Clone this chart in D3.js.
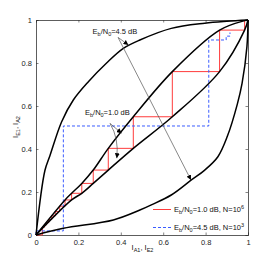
<!DOCTYPE html>
<html>
<head>
<meta charset="utf-8">
<title>EXIT chart</title>
<style>
body { margin: 0; background: #fff; }
* { font-family: "Liberation Sans", Arial, sans-serif; }
</style>
<script src="https://cdn.jsdelivr.net/npm/d3@7"></script>
</head>
<body>
<script>
// transfer curves, 4.5 dB (outer pair)
var a45X = [0, 0.042, 0.066, 0.121, 0.176, 0.247, 0.333, 0.412, 0.49, 0.638, 0.796, 0.9, 1];
var a45Y = [0, 0.30, 0.37, 0.527, 0.628, 0.713, 0.80, 0.868, 0.907, 0.961, 0.985, 0.994, 1];
var b45X = [0, 0.129, 0.365, 0.49, 0.544, 0.638, 0.733, 0.796, 0.858, 0.903, 0.95, 0.972, 0.995, 1];
var b45Y = [0, 0.031, 0.07, 0.116, 0.14, 0.186, 0.256, 0.302, 0.364, 0.46, 0.61, 0.705, 0.876, 1];
// transfer curves, 1.0 dB (inner pair)
var c10X = [0, 0.137, 0.168, 0.216, 0.27, 0.341, 0.459, 0.643, 0.866, 0.984, 1];
var c10Y = [0, 0.163, 0.194, 0.24, 0.302, 0.403, 0.55, 0.76, 0.953, 0.997, 1];
var d10X = [0, 0.168, 0.216, 0.27, 0.341, 0.459, 0.643, 0.866, 0.984, 1];
var d10Y = [0, 0.163, 0.194, 0.24, 0.302, 0.403, 0.55, 0.76, 0.953, 1];
// trajectories
var redX = [0.03, 0.04, 0.049, 0.06, 0.074, 0.091, 0.112, 0.137, 0.168, 0.216, 0.27, 0.341, 0.459, 0.643, 0.866, 0.984];
var redY = [0.036, 0.047, 0.058, 0.072, 0.089, 0.109, 0.134, 0.163, 0.194, 0.24, 0.302, 0.403, 0.55, 0.76, 0.953, 1.0];
var blueX = [0, 0, 0.129, 0.129, 0.815, 0.815, 0.897, 0.897, 0.915, 0.915];
var blueY = [0, 0.019, 0.019, 0.507, 0.507, 0.907, 0.907, 0.925, 0.925, 0.942];
var ticks = [0, 0.2, 0.4, 0.6, 0.8, 1];

var width = 274, height = 264;
var x = d3.scaleLinear().domain([0, 1]).range([36, 248]);
var y = d3.scaleLinear().domain([0, 1]).range([235, 20]);

var svg = d3.select("body").append("svg")
    .attr("width", width)
    .attr("height", height);

var defs = svg.append("defs");
defs.append("marker")
    .attr("id", "head")
    .attr("viewBox", "0 0 10 10")
    .attr("refX", 10).attr("refY", 5)
    .attr("markerWidth", 5).attr("markerHeight", 5)
    .attr("markerUnits", "userSpaceOnUse")
    .attr("orient", "auto")
  .append("path")
    .attr("d", "M0,0L10,5L0,10z")
    .attr("fill", "#000");

function zip(xs, ys) { return xs.map(function(v, i) { return [v, ys[i]]; }); }

var smooth = d3.line()
    .x(function(d) { return x(d[0]); })
    .y(function(d) { return y(d[1]); })
    .curve(d3.curveCatmullRom.alpha(0.5));
var straight = d3.line()
    .x(function(d) { return x(d[0]); })
    .y(function(d) { return y(d[1]); });

// axes (MATLAB style box, ticks inward)
var box = svg.append("g").attr("font-size", "7.5px").attr("fill", "#222");
box.append("g").attr("transform", "translate(0,235)")
    .call(d3.axisBottom(x).tickValues(ticks).tickSize(-2.5).tickPadding(5).tickFormat(d3.format("")));
box.append("g").attr("transform", "translate(0,20)")
    .call(d3.axisTop(x).tickValues(ticks).tickSize(-2.5).tickFormat(""));
box.append("g").attr("transform", "translate(36,0)")
    .call(d3.axisLeft(y).tickValues(ticks).tickSize(-2.5).tickPadding(4).tickFormat(d3.format("")));
box.append("g").attr("transform", "translate(248,0)")
    .call(d3.axisRight(y).tickValues(ticks).tickSize(-2.5).tickFormat(""));
box.selectAll(".domain").attr("stroke", "#333").attr("stroke-width", 0.8);
box.selectAll(".tick line").attr("stroke", "#333").attr("stroke-width", 0.6);
box.selectAll("text").attr("font-size", "7.5px").attr("fill", "#222")
    .attr("font-family", "Liberation Sans, Arial, sans-serif");

// red staircase
var redPts = [[0, 0]];
redX.forEach(function(v, i) {
    redPts.push([v, i === 0 ? 0 : redY[i - 1]]);
    redPts.push([v, redY[i]]);
});
svg.append("path")
    .attr("d", straight(redPts))
    .attr("fill", "none")
    .attr("stroke", "#ff3b3b")
    .attr("stroke-width", 1);

// blue dashed trajectory
svg.append("path")
    .attr("d", straight(zip(blueX, blueY)))
    .attr("fill", "none")
    .attr("stroke", "#3a5cff")
    .attr("stroke-width", 1)
    .attr("stroke-dasharray", "3,2");

// black transfer curves
[[a45X, a45Y], [b45X, b45Y], [c10X, c10Y], [d10X, d10Y]].forEach(function(c) {
    svg.append("path")
        .attr("d", smooth(zip(c[0], c[1])))
        .attr("fill", "none")
        .attr("stroke", "#000")
        .attr("stroke-width", 1.5);
});

// annotations
function ebno(g, px, py, rest) {
    var t = g.append("text").attr("x", px).attr("y", py)
        .attr("font-size", "7.5px").attr("fill", "#111");
    t.append("tspan").text("E");
    t.append("tspan").text("b").attr("font-size", "5.5px").attr("dy", 2);
    t.append("tspan").text("/N").attr("dy", -2);
    t.append("tspan").text("0").attr("font-size", "5.5px").attr("dy", 2);
    t.append("tspan").text(rest).attr("dy", -2);
    return t;
}
var ann = svg.append("g");
ebno(ann, x(0.267), y(0.935), "=4.5 dB");
ebno(ann, x(0.231), y(0.556), "=1.0 dB");

function arrow(p0, p1, ctrl) {
    var d = "M" + x(p0[0]) + "," + y(p0[1]) +
        (ctrl ? "Q" + x(ctrl[0]) + "," + y(ctrl[1]) + " " : "L") + x(p1[0]) + "," + y(p1[1]);
    ann.append("path").attr("d", d)
        .attr("fill", "none").attr("stroke", "#555").attr("stroke-width", 0.7)
        .attr("marker-end", "url(#head)");
}
arrow([0.387, 0.919], [0.436, 0.884]);
arrow([0.387, 0.919], [0.731, 0.256]);
arrow([0.349, 0.519], [0.404, 0.473]);
arrow([0.349, 0.519], [0.381, 0.357], [0.392, 0.45]);

// legend
var leg = svg.append("g");
leg.append("line").attr("x1", 153).attr("x2", 171).attr("y1", 209.5).attr("y2", 209.5)
    .attr("stroke", "#ff3b3b").attr("stroke-width", 1);
var t1 = ebno(leg, 174, 211.5, "=1.0 dB, N=10");
t1.append("tspan").text("6").attr("font-size", "5.5px").attr("dy", -3);
leg.append("line").attr("x1", 153).attr("x2", 171).attr("y1", 227.5).attr("y2", 227.5)
    .attr("stroke", "#3a5cff").attr("stroke-width", 1).attr("stroke-dasharray", "3,2");
var t2 = ebno(leg, 174, 229.5, "=4.5 dB, N=10");
t2.append("tspan").text("3").attr("font-size", "5.5px").attr("dy", -3);

// axis labels
var xl = svg.append("text").attr("x", 142.5).attr("y", 250)
    .attr("text-anchor", "middle").attr("font-size", "7.5px").attr("fill", "#111");
xl.append("tspan").text("I");
xl.append("tspan").text("A1").attr("font-size", "5.5px").attr("dy", 2);
xl.append("tspan").text(", I").attr("dy", -2);
xl.append("tspan").text("E2").attr("font-size", "5.5px").attr("dy", 2);

var yl = svg.append("text").attr("transform", "translate(18,127) rotate(-90)")
    .attr("text-anchor", "middle").attr("font-size", "7.5px").attr("fill", "#111");
yl.append("tspan").text("I");
yl.append("tspan").text("E1").attr("font-size", "5.5px").attr("dy", 2);
yl.append("tspan").text(", I").attr("dy", -2);
yl.append("tspan").text("A2").attr("font-size", "5.5px").attr("dy", 2);
</script>
</body>
</html>
